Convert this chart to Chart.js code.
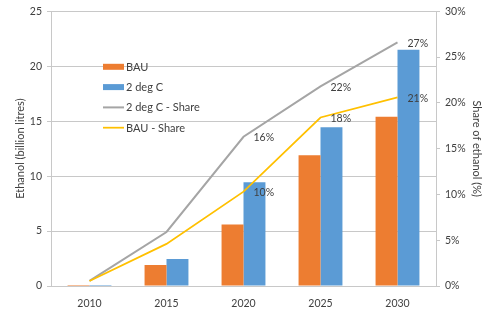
<!DOCTYPE html>
<html><head><meta charset="utf-8">
<script src="https://cdn.jsdelivr.net/npm/chart.js@4"></script>
<style>html,body{margin:0;padding:0;background:#fff}#w{width:493px;height:312px}</style>
</head><body><div id="w"><canvas id="c" width="493" height="312"></canvas></div>
<script>
const categories = ['2010','2015','2020','2025','2030'];
const bauEthanol = [0.1, 1.9, 5.6, 11.9, 15.4];
const degEthanol = [0.1, 2.45, 9.45, 14.45, 21.5];
const degShare = [0.55, 5.9, 16.3, 21.8, 26.6];
const bauShare = [0.55, 4.6, 10.3, 18.4, 20.6];
const degShareLabels = ['', '', '16%', '22%', '27%'];
const bauShareLabels = ['', '', '10%', '18%', '21%'];
const leftTicks = [0,5,10,15,20,25];
const rightTicks = [0,5,10,15,20,25,30];

const FONT = 'Lato, "Liberation Sans", sans-serif';
const TXT = '#404040';
const GRID = '#c8c8c8';

const labelPlugin = {
  id: 'lbls',
  afterDatasetsDraw(chart) {
    const ctx = chart.ctx;
    ctx.save();
    ctx.font = '10.5px ' + FONT;
    ctx.fillStyle = TXT;
    ctx.textBaseline = 'middle';
    ctx.textAlign = 'left';
    const sets = [[2, degShareLabels], [3, bauShareLabels]];
    sets.forEach(([i, labs]) => {
      const meta = chart.getDatasetMeta(i);
      meta.data.forEach((p, k) => {
        if (labs[k]) ctx.fillText(labs[k], p.x + 10, p.y + 1);
      });
    });
    ctx.restore();
  }
};

const legendPlugin = {
  id: 'leg',
  afterDraw(chart) {
    const ctx = chart.ctx;
    const a = chart.chartArea;
    const x0 = a.left + 52, y0 = a.top + 55.5;
    ctx.save();
    ctx.font = '11px ' + FONT;
    ctx.textBaseline = 'middle';
    ctx.textAlign = 'left';
    chart.data.datasets.forEach((ds, i) => {
      const y = y0 + i * 20.3;
      if (ds.type === 'line') {
        ctx.strokeStyle = ds.borderColor;
        ctx.lineWidth = ds.borderWidth;
        ctx.beginPath(); ctx.moveTo(x0, y); ctx.lineTo(x0 + 21, y); ctx.stroke();
      } else {
        ctx.fillStyle = ds.backgroundColor;
        ctx.fillRect(x0, y - 3, 21, 6);
      }
      ctx.fillStyle = TXT;
      ctx.fillText(ds.label, x0 + 23, y + 0.5);
    });
    ctx.restore();
  }
};

new Chart(document.getElementById('c'), {
  data: {
    labels: categories,
    datasets: [
      { type: 'bar', label: 'BAU', data: bauEthanol, backgroundColor: '#ED7D31', yAxisID: 'y', order: 2, categoryPercentage: 0.57, barPercentage: 1.0 },
      { type: 'bar', label: '2 deg C', data: degEthanol, backgroundColor: '#5B9BD5', yAxisID: 'y', order: 2, categoryPercentage: 0.57, barPercentage: 1.0 },
      { type: 'line', label: '2 deg C - Share', data: degShare, borderColor: '#A5A5A5', borderWidth: 2, pointRadius: 0, tension: 0, yAxisID: 'y1', order: 1 },
      { type: 'line', label: 'BAU - Share', data: bauShare, borderColor: '#FFC000', borderWidth: 1.75, pointRadius: 0, tension: 0, yAxisID: 'y1', order: 0 }
    ]
  },
  options: {
    responsive: false,
    animation: false,
    devicePixelRatio: 1,
    layout: { padding: { top: 6, right: 8, left: 12, bottom: 0 } },
    plugins: { legend: { display: false }, tooltip: { enabled: false } },
    scales: {
      x: {
        grid: { display: false },
        border: { color: GRID, width: 1 },
        ticks: { color: TXT, font: { family: FONT, size: 10.5 }, padding: 3 },
        afterFit(s) { s.height = 26; }
      },
      y: {
        position: 'left',
        min: 0, max: 25,
        afterBuildTicks(s) { s.ticks = leftTicks.map(v => ({ value: v })); },
        grid: { color: GRID, tickLength: 4, drawTicks: true },
        border: { color: GRID },
        ticks: { color: TXT, font: { family: FONT, size: 10.5 }, padding: 5 },
        title: { display: true, text: 'Ethanol (billion litres)', color: TXT, font: { family: FONT, size: 11 }, padding: 2 },
        afterFit(s) { s.width = 39; }
      },
      y1: {
        position: 'right',
        min: 0, max: 30,
        afterBuildTicks(s) { s.ticks = rightTicks.map(v => ({ value: v })); },
        grid: { drawOnChartArea: false, color: GRID, tickLength: 4 },
        border: { color: GRID },
        ticks: { color: TXT, font: { family: FONT, size: 10.5 }, padding: 5, callback: v => v + '%' },
        title: { display: true, text: 'Share of ethanol (%)', color: TXT, font: { family: FONT, size: 11 }, padding: 2 },
        afterFit(s) { s.width = 49; }
      }
    }
  },
  plugins: [labelPlugin, legendPlugin]
});
</script></body></html>
